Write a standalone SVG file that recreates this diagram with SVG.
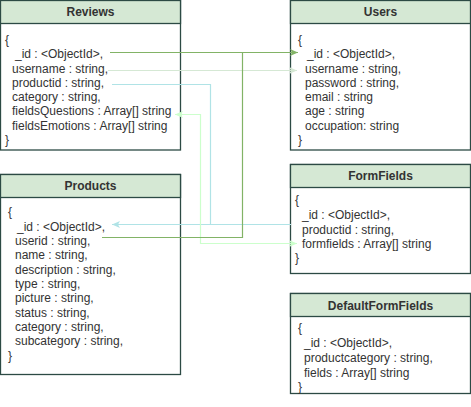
<svg xmlns="http://www.w3.org/2000/svg" width="471" height="407" viewBox="0 0 471 407">
<style>
.box{fill:#ffffff;stroke:#2c4a44;stroke-width:1.3}
.hdr{fill:#d5e8d4;stroke:#2c4a44;stroke-width:1.3}
.t{font-family:"Liberation Sans",Arial,sans-serif;font-size:12px;fill:#333333}
.title{font-family:"Liberation Sans",Arial,sans-serif;font-size:12px;font-weight:bold;fill:#333333;text-anchor:middle}
.c{fill:none;stroke-width:1.2}
</style>
<defs>
<marker id="aDark" markerWidth="9" markerHeight="8" refX="8" refY="4" orient="auto-start-reverse" markerUnits="userSpaceOnUse"><path d="M0,0.5 L8,4 L0,7.5 L2,4 Z" fill="#82b366"/></marker>
<marker id="aPale" markerWidth="9" markerHeight="8" refX="8" refY="4" orient="auto-start-reverse" markerUnits="userSpaceOnUse"><path d="M0,0.5 L8,4 L0,7.5 L2,4 Z" fill="#d5e8d4"/></marker>
<marker id="aCyan" markerWidth="9" markerHeight="8" refX="8" refY="4" orient="auto-start-reverse" markerUnits="userSpaceOnUse"><path d="M0,0.5 L8,4 L0,7.5 L2,4 Z" fill="#b0e3e6"/></marker>
<marker id="aLight" markerWidth="9" markerHeight="8" refX="8" refY="4" orient="auto-start-reverse" markerUnits="userSpaceOnUse"><path d="M0,0.5 L8,4 L0,7.5 L2,4 Z" fill="#ccffcc"/></marker>
</defs>

<g id="Reviews">
<rect class="box" x="0.5" y="0.5" width="180" height="149.5"/>
<rect class="hdr" x="0.5" y="0.5" width="180" height="23"/>
<text class="title" x="90.5" y="16">Reviews</text>
<text class="t" x="5" y="44">{</text>
<text class="t" x="15" y="58">_id : &lt;ObjectId&gt;,</text>
<text class="t" x="12" y="72.5">username : string,</text>
<text class="t" x="12" y="86.5">productid : string,</text>
<text class="t" x="12" y="101">category : string,</text>
<text class="t" x="12" y="115">fieldsQuestions : Array[] string</text>
<text class="t" x="12" y="129.5">fieldsEmotions : Array[] string</text>
<text class="t" x="5" y="143.5">}</text>
</g>

<g id="Users">
<rect class="box" x="290.5" y="0.5" width="180" height="149.5"/>
<rect class="hdr" x="290.5" y="0.5" width="180" height="23"/>
<text class="title" x="380.5" y="16">Users</text>
<text class="t" x="298" y="44">{</text>
<text class="t" x="307" y="58">_id : &lt;ObjectId&gt;,</text>
<text class="t" x="305" y="72.5">username : string,</text>
<text class="t" x="305" y="86.5">password : string,</text>
<text class="t" x="305" y="101">email : string</text>
<text class="t" x="305" y="115">age : string</text>
<text class="t" x="305" y="129.5">occupation: string</text>
<text class="t" x="298" y="143.5">}</text>
</g>

<g id="Products">
<rect class="box" x="0.5" y="174.5" width="180" height="200"/>
<rect class="hdr" x="0.5" y="174.5" width="180" height="23"/>
<text class="title" x="90.5" y="190">Products</text>
<text class="t" x="8" y="216">{</text>
<text class="t" x="17" y="230.5">_id : &lt;ObjectId&gt;,</text>
<text class="t" x="15" y="244.5">userid : string,</text>
<text class="t" x="15" y="259">name : string,</text>
<text class="t" x="15" y="273.5">description : string,</text>
<text class="t" x="15" y="287.5">type : string,</text>
<text class="t" x="15" y="302">picture : string,</text>
<text class="t" x="15" y="316.5">status : string,</text>
<text class="t" x="15" y="331">category : string,</text>
<text class="t" x="15" y="345">subcategory : string,</text>
<text class="t" x="8" y="359.5">}</text>
</g>

<g id="FormFields">
<rect class="box" x="290.5" y="164.5" width="180" height="109"/>
<rect class="hdr" x="290.5" y="164.5" width="180" height="23"/>
<text class="title" x="380.5" y="179.5">FormFields</text>
<text class="t" x="295" y="204">{</text>
<text class="t" x="302" y="219">_id : &lt;ObjectId&gt;,</text>
<text class="t" x="302" y="234">productid : string,</text>
<text class="t" x="302" y="248">formfields : Array[] string</text>
<text class="t" x="295" y="262">}</text>
</g>

<g id="DefaultFormFields">
<rect class="box" x="290.5" y="293.5" width="180" height="100"/>
<rect class="hdr" x="290.5" y="293.5" width="180" height="23"/>
<text class="title" x="380.5" y="309.5">DefaultFormFields</text>
<text class="t" x="298" y="332">{</text>
<text class="t" x="304" y="347">_id : &lt;ObjectId&gt;,</text>
<text class="t" x="304" y="362">productcategory : string,</text>
<text class="t" x="304" y="377">fields : Array[] string</text>
<text class="t" x="298" y="391">}</text>
</g>

<g id="connectors">
<path class="c" stroke="#b0e3e6" d="M112,84.5 H210.5 V224.5"/>
<path class="c" stroke="#b0e3e6" d="M291,224.5 H112" marker-end="url(#aCyan)"/>
<path class="c" stroke="#ccffcc" d="M297,243.5 H200.5 V114.5 H175" marker-start="url(#aLight)" marker-end="url(#aLight)"/>
<path class="c" stroke="#d5e8d4" d="M108,70.5 H297" marker-end="url(#aPale)"/>
<path class="c" stroke="#82b366" d="M102,237.5 H242.5 V52.5"/>
<path class="c" stroke="#82b366" d="M110,52.5 H298" marker-end="url(#aDark)"/>
</g>
</svg>
